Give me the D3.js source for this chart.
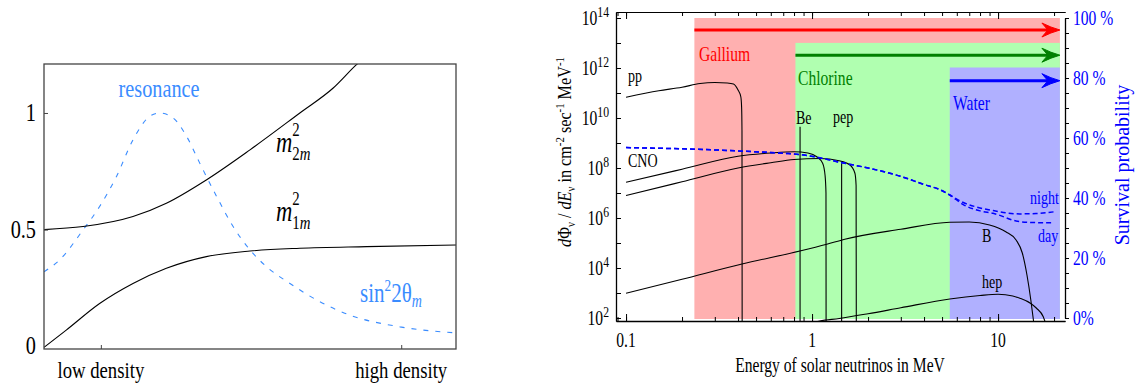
<!DOCTYPE html>
<html>
<head>
<meta charset="utf-8">
<script src="https://cdn.jsdelivr.net/npm/d3@7"></script>
<style>
  body { margin: 0; background: #fff; }
  svg { display: block; font-family: "Liberation Serif", "Times New Roman", serif; }
</style>
</head>
<body>
<svg id="chart" width="1136" height="392"></svg>
<script>
// ---------- left panel: level crossing vs density ----------
const densityTicks = [0.138, 0.867];
const densityLabels = ["low density", "high density"];
const mixTicks = [0, 0.5, 1];
const mixTickLabels = ["0", "0.5", "1"];
// [density, value]
const m2Curve = [[0, 0.5], [0.095, 0.513], [0.216, 0.556], [0.297, 0.613], [0.394, 0.713],
                 [0.5, 0.842], [0.621, 1.0], [0.702, 1.107], [0.759, 1.208], [0.8, 1.27]];
const m1Curve = [[0, -0.005], [0.054, 0.069], [0.135, 0.183], [0.216, 0.269], [0.297, 0.334],
                 [0.394, 0.384], [0.5, 0.408], [0.621, 0.42], [0.783, 0.427], [1, 0.434]];
const sinCurve = [[0, 0.319], [0.038, 0.37], [0.095, 0.499], [0.135, 0.599], [0.176, 0.728],
                  [0.216, 0.885], [0.257, 0.986], [0.281, 1.0], [0.313, 0.979], [0.346, 0.9],
                  [0.378, 0.785], [0.419, 0.642], [0.459, 0.513], [0.5, 0.413], [0.54, 0.341],
                  [0.597, 0.269], [0.662, 0.198], [0.743, 0.133], [0.864, 0.083], [1, 0.057]];

// ---------- right panel: solar neutrino spectra ----------
const energyTicks = [0.1, 1, 10];
const energyTickLabels = ["0.1", "1", "10"];
const fluxExps = [2, 4, 6, 8, 10, 12, 14];
const survTicks = [0, 20, 40, 60, 80, 100];
const survTickLabels = ["0%", "20 %", "40 %", "60 %", "80 %", "100 %"];
// spectra as [E in MeV, log10 flux]
const ppSpectrum = [[0.1, 10.83], [0.15, 11.09], [0.2, 11.23], [0.25, 11.38], [0.3, 11.42],
                    [0.35, 11.4], [0.378, 11.36], [0.4, 11.12], [0.414, 10.85], [0.418, 10.45],
                    [0.42, 9.5], [0.421, 1]];
const n13Spectrum = [[0.1, 7.43], [0.2, 7.95], [0.4, 8.47], [0.6, 8.6], [0.8, 8.65], [0.95, 8.6],
                     [1.06, 8.45], [1.14, 8.19], [1.175, 7.7], [1.188, 7.0], [1.19, 1]];
const o15Spectrum = [[0.1, 6.9], [0.2, 7.45], [0.4, 8.0], [0.6, 8.21], [0.8, 8.34], [1.1, 8.38],
                     [1.4, 8.29], [1.6, 8.12], [1.7, 7.79], [1.725, 7.3], [1.73, 1]];
const b8Spectrum = [[0.1, 2.99], [0.2, 3.55], [0.42, 4.16], [0.86, 4.68], [1.2, 4.95], [1.5, 5.15],
                    [3, 5.55], [5.5, 5.83], [7, 5.84], [9, 5.72], [11, 5.45], [12.5, 5.12],
                    [13.5, 4.6], [14.3, 3.72], [15, 2.72], [15.5, 1.9], [16, 1]];
const hepSpectrum = [[0.9, 1.7], [1.1, 1.88], [1.4, 1.98], [2, 2.17], [3, 2.41], [5.5, 2.76],
                     [8, 2.9], [10, 2.95], [12, 2.88], [13.1, 2.79], [15, 2.58], [16.1, 2.39],
                     [17.5, 2.05], [18.5, 1.5]];
// mono-energetic lines: energy, log10 flux
const lineNames = ["Be", "pep"];
const lineEnergies = [0.862, 1.442];
const lineFluxes = [9.65, 8.19];
// survival probability in %, [E, %]
const survCommon = [[0.1, 56.8], [0.2, 56.4], [0.4, 55.7], [0.7, 54.9], [0.86, 54.5], [1.1, 53.4],
                    [1.41, 51.9], [2, 50.0], [3, 47.2], [4, 44.5], [4.9, 42.7], [5.5, 41.0]];
const survNight = [[6.5, 38.5], [8, 36.7], [9.4, 35.8], [13.1, 34.7], [16, 34.8], [20, 35.4]];
const survDay = [[6.5, 37.8], [8, 35.7], [9.4, 34.9], [13.1, 32.1], [16, 31.8], [20, 31.7]];
// detectors
const detectors = ["Gallium", "Chlorine", "Water"];
const thresholds = [0.233, 0.814, 5.5];
const bandTops = [100, 91.7, 83.5];
const arrowLevels = [96, 87.6, 79.1];
const bandEnd = 21.5;

const bandColors = ["#ffb0b0", "#b0ffb0", "#b0b0ff"];
const arrowColors = ["#ff0000", "#008000", "#0000ff"];
const SQ = 0.78; // horizontal squeeze of the text

const svg = d3.select("#chart");

function txt(g, x, y, parts, o) {
  o = o || {};
  const tr = "translate(" + x + "," + y + ")" +
    (o.rot ? " rotate(" + o.rot + ") scale(" + (o.sx || 1) + ",1)" : " scale(" + SQ + ",1)");
  const t = g.append("text").attr("transform", tr)
    .attr("font-size", o.size || 20)
    .attr("fill", o.color || "#000")
    .attr("text-anchor", o.anchor || "start");
  parts.forEach(function(p) {
    if (typeof p === "string") { t.append("tspan").text(p); return; }
    const s = t.append("tspan").text(p.t);
    if (p.dy) s.attr("dy", p.dy);
    if (p.dx) s.attr("dx", p.dx);
    if (p.size) s.attr("font-size", p.size);
    if (p.it) s.attr("font-style", "italic");
  });
  return t;
}

// ================= left panel =================
const L = svg.append("g");
const xD = d3.scaleLinear().domain([0, 1]).range([44, 456]);
const yM = d3.scaleLinear().domain([-0.012, 1.21]).range([349, 64]);

L.append("clipPath").attr("id", "clipL").append("rect")
  .attr("x", 44).attr("y", 64).attr("width", 412).attr("height", 285);

const lineD = d3.line().x(d => xD(d[0])).y(d => yM(d[1])).curve(d3.curveMonotoneX);
const plotL = L.append("g").attr("clip-path", "url(#clipL)");
plotL.append("path").datum(sinCurve).attr("d", lineD)
  .attr("fill", "none").attr("stroke", "#3a8cff").attr("stroke-width", 1.1)
  .attr("stroke-dasharray", "5,7");
[m2Curve, m1Curve].forEach(function(c) {
  plotL.append("path").datum(c).attr("d", lineD)
    .attr("fill", "none").attr("stroke", "#000").attr("stroke-width", 1.1);
});

L.append("rect").attr("x", 44).attr("y", 64).attr("width", 412).attr("height", 285)
  .attr("fill", "none").attr("stroke", "#444").attr("stroke-width", 1.3);

L.append("g").attr("transform", "translate(0,349)")
  .call(d3.axisBottom(xD).tickValues(densityTicks).tickSize(-4).tickSizeOuter(0).tickFormat(""))
  .call(g => g.select(".domain").remove())
  .selectAll("line").attr("stroke", "#444");
L.append("g").attr("transform", "translate(44,0)")
  .call(d3.axisLeft(yM).tickValues(mixTicks.slice(1)).tickSize(-4).tickSizeOuter(0).tickFormat(""))
  .call(g => g.select(".domain").remove())
  .selectAll("line").attr("stroke", "#444");

mixTicks.forEach(function(v, i) {
  txt(L, 36, yM(v) + 8, [mixTickLabels[i]], { size: 26, anchor: "end" });
});
densityTicks.forEach(function(v, i) {
  txt(L, xD(v), 378, [densityLabels[i]], { size: 24, anchor: "middle" });
});

txt(L, 159, 97, ["resonance"], { size: 26, anchor: "middle", color: "#3a8cff" });
txt(L, 276, 152, [{ t: "m", it: true }, { t: "2", size: 19, dy: -16 },
                  { t: "2", size: 19, dy: 24, dx: -9.5 }, { t: "m", size: 19, it: true }], { size: 29 });
txt(L, 276, 221, [{ t: "m", it: true }, { t: "2", size: 19, dy: -16 },
                  { t: "1", size: 19, dy: 24, dx: -9.5 }, { t: "m", size: 19, it: true }], { size: 29 });
txt(L, 360, 302, ["sin", { t: "2", size: 17, dy: -11 }, { t: "2θ", dy: 11 },
                  { t: "m", size: 18, it: true, dy: 5 }], { size: 27, color: "#3a8cff" });

// ================= right panel =================
const R = svg.append("g");
const xE = d3.scaleLog().domain([0.0883, 22.9]).range([616, 1065]);
const yF = d3.scaleLog().domain([Math.pow(10, 1.88), Math.pow(10, 14.24)]).range([321, 12]);
const yP = d3.scaleLinear().domain([0, 100]).range([yF(1e2), yF(1e14)]);

// detector bands
detectors.forEach(function(name, i) {
  const x0 = xE(thresholds[i]);
  R.append("rect").attr("x", x0).attr("y", yP(bandTops[i]))
    .attr("width", xE(bandEnd) - x0).attr("height", yP(0) - yP(bandTops[i]) + 1)
    .attr("fill", bandColors[i]);
});

R.append("clipPath").attr("id", "clipR").append("rect")
  .attr("x", 616).attr("y", 12).attr("width", 449).attr("height", 309);
const plotR = R.append("g").attr("clip-path", "url(#clipR)");

const lineS = d3.line().x(d => xE(d[0])).y(d => yF(Math.pow(10, d[1]))).curve(d3.curveMonotoneX);
[ppSpectrum, n13Spectrum, o15Spectrum, b8Spectrum, hepSpectrum].forEach(function(s) {
  plotR.append("path").datum(s).attr("d", lineS)
    .attr("fill", "none").attr("stroke", "#000").attr("stroke-width", 1.1);
});
lineEnergies.forEach(function(e, i) {
  plotR.append("line").attr("x1", xE(e)).attr("x2", xE(e))
    .attr("y1", yF(Math.pow(10, lineFluxes[i]))).attr("y2", 330)
    .attr("stroke", "#000").attr("stroke-width", 1.1);
});

const lineP = d3.line().x(d => xE(d[0])).y(d => yP(d[1])).curve(d3.curveMonotoneX);
[survCommon.concat(survNight), survCommon.concat(survDay)].forEach(function(s) {
  plotR.append("path").datum(s).attr("d", lineP)
    .attr("fill", "none").attr("stroke", "#0000ff").attr("stroke-width", 1.5)
    .attr("stroke-dasharray", "5,3");
});

// threshold arrows
detectors.forEach(function(name, i) {
  const y = yP(arrowLevels[i]), tip = xE(bandEnd);
  R.append("line").attr("x1", xE(thresholds[i])).attr("x2", tip - 8)
    .attr("y1", y).attr("y2", y).attr("stroke", arrowColors[i]).attr("stroke-width", 3);
  R.append("path").attr("transform", "translate(" + tip + "," + y + ")")
    .attr("d", "M0,0 Q-9,-2.5 -18,-7 L-12,0 L-18,7 Q-9,2.5 0,0 Z")
    .attr("fill", arrowColors[i]).attr("stroke", arrowColors[i]).attr("stroke-width", 1);
});

// axes
const minorE = [];
[0.01, 0.1, 1, 10].forEach(function(d) {
  for (let k = 1; k <= 9; k++) {
    const v = d * k;
    if (v >= 0.0883 && v <= 22.9) minorE.push(v);
  }
});
const axStyle = g => g.selectAll("line,path").attr("stroke", "#000");
R.append("g").attr("transform", "translate(0,321)")
  .call(d3.axisBottom(xE).tickValues(minorE).tickSize(-4).tickSizeOuter(0).tickFormat(""))
  .call(axStyle).select(".domain").attr("stroke-width", 1.3);
R.append("g").attr("transform", "translate(0,321)")
  .call(d3.axisBottom(xE).tickValues(energyTicks).tickSize(-7).tickSizeOuter(0).tickFormat(""))
  .call(axStyle);
R.append("g").attr("transform", "translate(0,12)")
  .call(d3.axisTop(xE).tickValues(minorE).tickSize(-4).tickSizeOuter(0).tickFormat(""))
  .call(axStyle);
R.append("g").attr("transform", "translate(0,12)")
  .call(d3.axisTop(xE).tickValues(energyTicks).tickSize(-7).tickSizeOuter(0).tickFormat(""))
  .call(axStyle);
const decades = d3.range(2, 15).map(k => Math.pow(10, k));
R.append("g").attr("transform", "translate(616,0)")
  .call(d3.axisLeft(yF).tickValues(decades).tickSize(-5).tickSizeOuter(0).tickFormat(""))
  .call(axStyle).select(".domain").attr("stroke-width", 1.3);
R.append("g").attr("transform", "translate(1065,0)")
  .call(d3.axisRight(yP).tickValues(d3.range(0, 101, 5)).tickSize(4).tickSizeOuter(0).tickFormat(""))
  .call(axStyle).select(".domain").attr("stroke-width", 1.3);

// tick labels
energyTicks.forEach(function(v, i) {
  txt(R, xE(v), 347, [energyTickLabels[i]], { anchor: "middle" });
});
fluxExps.forEach(function(k) {
  txt(R, 609, yF(Math.pow(10, k)) + 7, ["10", { t: String(k), size: 15, dy: -8 }], { anchor: "end" });
});
survTicks.forEach(function(v, i) {
  txt(R, 1073, yP(v) + 7, [survTickLabels[i]], { color: "#0000ff" });
});

// titles
txt(R, 840, 372, ["Energy of solar neutrinos in MeV"], { anchor: "middle" });
txt(R, 571, 152, [{ t: "d", it: true }, "Φ", { t: "ν", size: 12, dy: 4 }, { t: " / ", dy: -4 },
                  { t: "dE", it: true }, { t: "ν", size: 12, dy: 4 }, { t: " in cm", dy: -4 },
                  { t: "-2", size: 12, dy: -7 }, { t: " sec", dy: 7 }, { t: "-1", size: 12, dy: -7 },
                  { t: " MeV", dy: 7 }, { t: "-1", size: 12, dy: -7 }],
    { rot: -90, anchor: "middle", size: 18, sx: 0.9 });
txt(R, 1129, 165, ["Survival probability"], { rot: -90, anchor: "middle", color: "#0000ff" });

// detector and source labels
txt(R, 699, 61, ["Gallium"], { color: "#ff0000" });
txt(R, 798, 85, ["Chlorine"], { color: "#008000" });
txt(R, 953, 110, ["Water"], { color: "#0000ff" });
txt(R, 628, 82, ["pp"], { size: 18 });
txt(R, 628, 167, ["CNO"], { size: 18 });
txt(R, 796, 124, ["Be"], { size: 18 });
txt(R, 833, 123, ["pep"], { size: 18 });
txt(R, 982, 242, ["B"], { size: 18 });
txt(R, 982, 288, ["hep"], { size: 18 });
txt(R, 1030, 204, ["night"], { size: 18, color: "#0000ff" });
txt(R, 1038, 242, ["day"], { size: 18, color: "#0000ff" });
</script>
</body>
</html>
